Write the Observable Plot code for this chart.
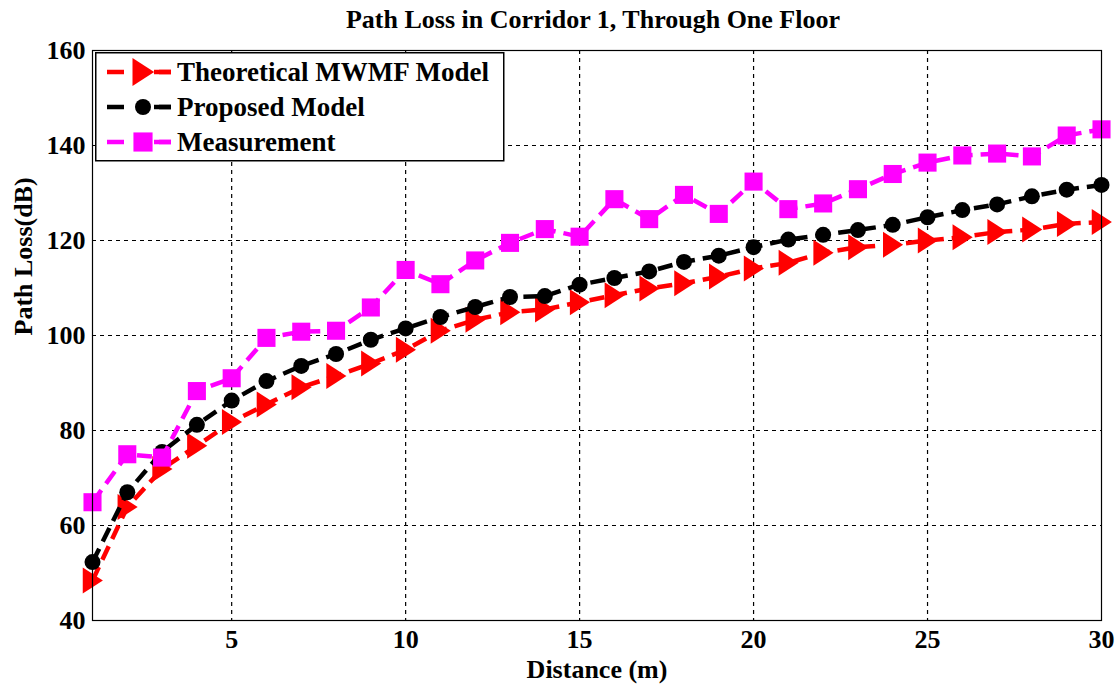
<!DOCTYPE html>
<html>
<head>
<meta charset="utf-8">
<script src="https://cdn.jsdelivr.net/npm/d3@7"></script>
<script src="https://cdn.jsdelivr.net/npm/@observablehq/plot@0.6"></script>
<style>
  body { margin: 0; background: #fff; }
  #wrap { position: relative; width: 1118px; height: 689px; font-family: "Liberation Serif", "Times New Roman", serif; }
  #title { position: absolute; left: 0; top: 3px; width: 1118px; height: 34px; line-height: 34px; text-align: center; font-weight: bold; font-size: 26px; padding-left: 68px; box-sizing: border-box; }
  #legend { position: absolute; left: 95px; top: 52px; }
</style>
</head>
<body>
<div id="wrap">
  <div id="chart"></div>
  <div id="title">Path Loss in Corridor 1, Through One Floor</div>
  <svg id="legend" width="410" height="110"></svg>
</div>
<script>
const distance = [1,2,3,4,5,6,7,8,9,10,11,12,13,14,15,16,17,18,19,20,21,22,23,24,25,26,27,28,29,30];
const theoretical = [48.4,63.9,71.9,76.8,81.8,85.5,89.1,91.5,94.1,97.0,101.0,103.3,104.9,105.5,107.0,108.5,109.9,111.0,112.4,114.1,115.3,117.4,118.6,119.1,120.0,120.7,121.8,122.3,123.5,123.9];
const proposed = [52.3,67.0,75.5,81.2,86.3,90.4,93.6,96.1,99.1,101.5,103.9,106.0,108.1,108.3,110.7,112.1,113.5,115.5,116.8,118.6,120.2,121.2,122.2,123.3,124.9,126.4,127.6,129.3,130.7,131.7];
const measurement = [64.9,75.0,74.3,88.3,91.0,99.5,100.8,101.0,105.9,113.8,110.8,115.8,119.5,122.4,120.8,128.7,124.5,129.6,125.6,132.4,126.6,127.8,130.8,134.0,136.4,137.9,138.3,137.7,142.1,143.4];
const seriesNames = ["Theoretical MWMF Model", "Proposed Model", "Measurement"];
const seriesColors = ["#ff0000", "#000000", "#ff00ff"];
const xTicks = [5,10,15,20,25,30];
const yTicks = [40,60,80,100,120,140,160];
const xGrid = [5,10,15,20,25];
const yGrid = [60,80,100,120,140];

// right-pointing triangle symbol
const triangleRight = {
  draw(ctx, size) {
    const r = Math.sqrt(size / Math.PI);
    ctx.moveTo(-0.75 * r, -r);
    ctx.lineTo(0.8 * r, 0);
    ctx.lineTo(-0.75 * r, r);
    ctx.closePath();
  }
};
const symbols = [triangleRight, "circle", "square"];
const radii = [13, 8, 10.2];
const values = [theoretical, proposed, measurement];

const rows = values.map(v => distance.map((d, i) => ({x: d, y: v[i]})));

const seriesMarks = [];
rows.forEach((data, k) => {
  seriesMarks.push(Plot.line(data, {x: "x", y: "y", stroke: seriesColors[k], strokeWidth: 4.5, strokeDasharray: "15,8", strokeLinecap: "butt"}));
  seriesMarks.push(Plot.dot(data, {x: "x", y: "y", symbol: symbols[k], r: radii[k], fill: seriesColors[k], stroke: "none"}));
});

const chart = Plot.plot({
  width: 1118,
  height: 689,
  marginTop: 50,
  marginBottom: 69,
  marginLeft: 92,
  marginRight: 17,
  x: {domain: [1, 30]},
  y: {domain: [40, 160]},
  style: {fontFamily: "'Liberation Serif', 'Times New Roman', serif", fontWeight: "bold", fontSize: "26px", color: "black", background: "white"},
  marks: [
    Plot.gridX(xGrid, {stroke: "black", strokeOpacity: 1, strokeWidth: 1.2, strokeDasharray: "4,4"}),
    Plot.gridY(yGrid, {stroke: "black", strokeOpacity: 1, strokeWidth: 1.2, strokeDasharray: "4,4"}),
    Plot.axisX(xTicks, {tickSize: 0, tickPadding: 9, label: null, fontSize: 26, fontWeight: "bold"}),
    Plot.axisY(yTicks, {tickSize: 0, tickPadding: 7, label: null, fontSize: 26, fontWeight: "bold"}),
    Plot.text(["Distance (m)"], {frameAnchor: "bottom", dy: 57, fontSize: 26, fontWeight: "bold"}),
    Plot.text(["Path Loss(dB)"], {frameAnchor: "left", rotate: -90, dx: -69, fontSize: 26, fontWeight: "bold"}),
    ...seriesMarks,
    Plot.frame({stroke: "black", strokeWidth: 1.2})
  ]
});
document.getElementById("chart").appendChild(chart);

// legend
const lg = d3.select("#legend");
lg.append("rect").attr("x", 0.75).attr("y", 0.75).attr("width", 408).attr("height", 108)
  .attr("fill", "white").attr("stroke", "black").attr("stroke-width", 1.5);
const symGen = [triangleRight, d3.symbolCircle, d3.symbolSquare];
seriesNames.forEach((name, k) => {
  const cy = 20 + k * 35;
  lg.append("line").attr("x1", 12).attr("x2", 76).attr("y1", cy).attr("y2", cy)
    .attr("stroke", seriesColors[k]).attr("stroke-width", 4.5).attr("stroke-dasharray", "17,30");
  lg.append("line").attr("x1", 64).attr("x2", 76).attr("y1", cy).attr("y2", cy)
    .attr("stroke", seriesColors[k]).attr("stroke-width", 4.5);
  const r = [14, 8, 10.8][k];
  lg.append("path").attr("transform", `translate(48,${cy})`)
    .attr("d", d3.symbol(symGen[k], Math.PI * r * r)())
    .attr("fill", seriesColors[k]);
  lg.append("text").attr("x", 82).attr("y", cy).attr("dy", "0.35em")
    .attr("font-family", "'Liberation Serif', 'Times New Roman', serif")
    .attr("font-weight", "bold").attr("font-size", 27).text(name);
});
</script>
</body>
</html>
